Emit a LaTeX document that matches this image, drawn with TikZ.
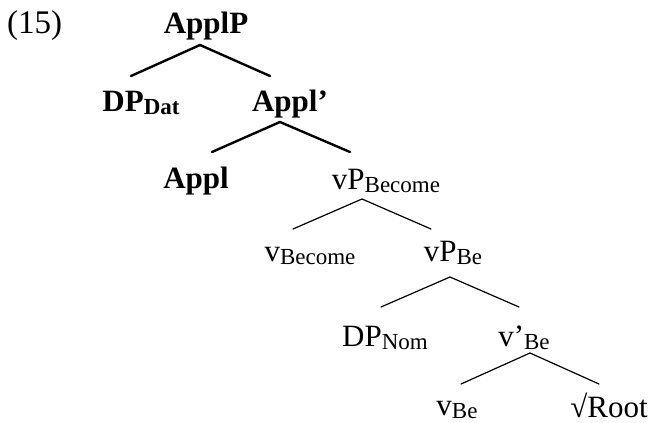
\documentclass[tikz,border=0pt]{standalone}
\usepackage{fontspec}
\setmainfont{Liberation Serif}
\usepackage{tikz}

\newcommand{\catsize}{\fontsize{31}{36}\selectfont}
\newcommand{\catsub}[1]{\raisebox{-3.5pt}{\fontsize{23}{27}\selectfont #1}}

\tikzset{
	catnode/.style={
		inner sep=0pt,
		anchor=base,
		font=\catsize
	},
	headnode/.style={
		catnode,
		font=\catsize\bfseries
	},
	heavybranch/.style={
		line width=2.4pt,
		line cap=round,
		color=black
	},
	branch/.style={
		line width=1.2pt,
		line cap=round,
		color=black
	}
}

\begin{document}
\begin{tikzpicture}[x=1pt, y=-1pt]
		
		\useasboundingbox (0,0) rectangle (654,423);
		\clip (0,0) rectangle (654,423);
		
		% Example number
		\node[catnode, anchor=base west, font=\fontsize{33}{38}\selectfont] (exnum) at (7,34) {(15)};
		
		% Nodes
		% Upper part: applicative layer
		\node[headnode] (applP) at (206,33) {ApplP};
		\node[headnode] (dpdat) at (141,111) {DP\catsub{Dat}};
		\node[headnode] (applbar) at (290,111) {Appl’};
		\node[headnode] (appl) at (196,188) {Appl};
		
		% Lower part: verbal layers
		\node[catnode] (vpbecome) at (386,189) {vP\catsub{Become}};
		\node[catnode] (vbecome) at (310,261) {v\catsub{Become}};
		\node[catnode] (vpbe) at (453,261) {vP\catsub{Be}};
		\node[catnode] (dpnom) at (385,346) {DP\catsub{Nom}};
		\node[catnode] (vbarbe) at (524,346) {v’\catsub{Be}};
		\node[catnode] (vbe) at (457,415) {v\catsub{Be}};
		\node[catnode] (root) at (609,417) {√Root};
		
		% Branches
		% ApplP to DP and Appl'
		\draw[heavybranch] ([shift={(-10,-35)}]dpdat.base) -- ([shift={(-6,12)}]applP.base)
		-- ([shift={(-20,-35)}]applbar.base);
		
		% Appl' to Appl and vP
		\draw[heavybranch] ([shift={(16,-36)}]appl.base) -- ([shift={(-10,11)}]applbar.base)
		-- ([shift={(-36,-37)}]vpbecome.base);
		
		% vP (Become) to v and vP (Be)
		\draw[branch] ([shift={(-17,-32)}]vbecome.base) -- ([shift={(-24,10)}]vpbecome.base)
		-- ([shift={(-22,-32)}]vpbe.base);
		
		% vP (Be) to DP and v'
		\draw[branch] ([shift={(-4,-39)}]dpnom.base) -- ([shift={(-3,16)}]vpbe.base)
		-- ([shift={(-5,-39)}]vbarbe.base);
		
		% v' to v and root
		\draw[branch] ([shift={(4,-31)}]vbe.base) -- ([shift={(6,7)}]vbarbe.base)
		-- ([shift={(-10,-33)}]root.base);
		
	\end{tikzpicture}
\end{document}
